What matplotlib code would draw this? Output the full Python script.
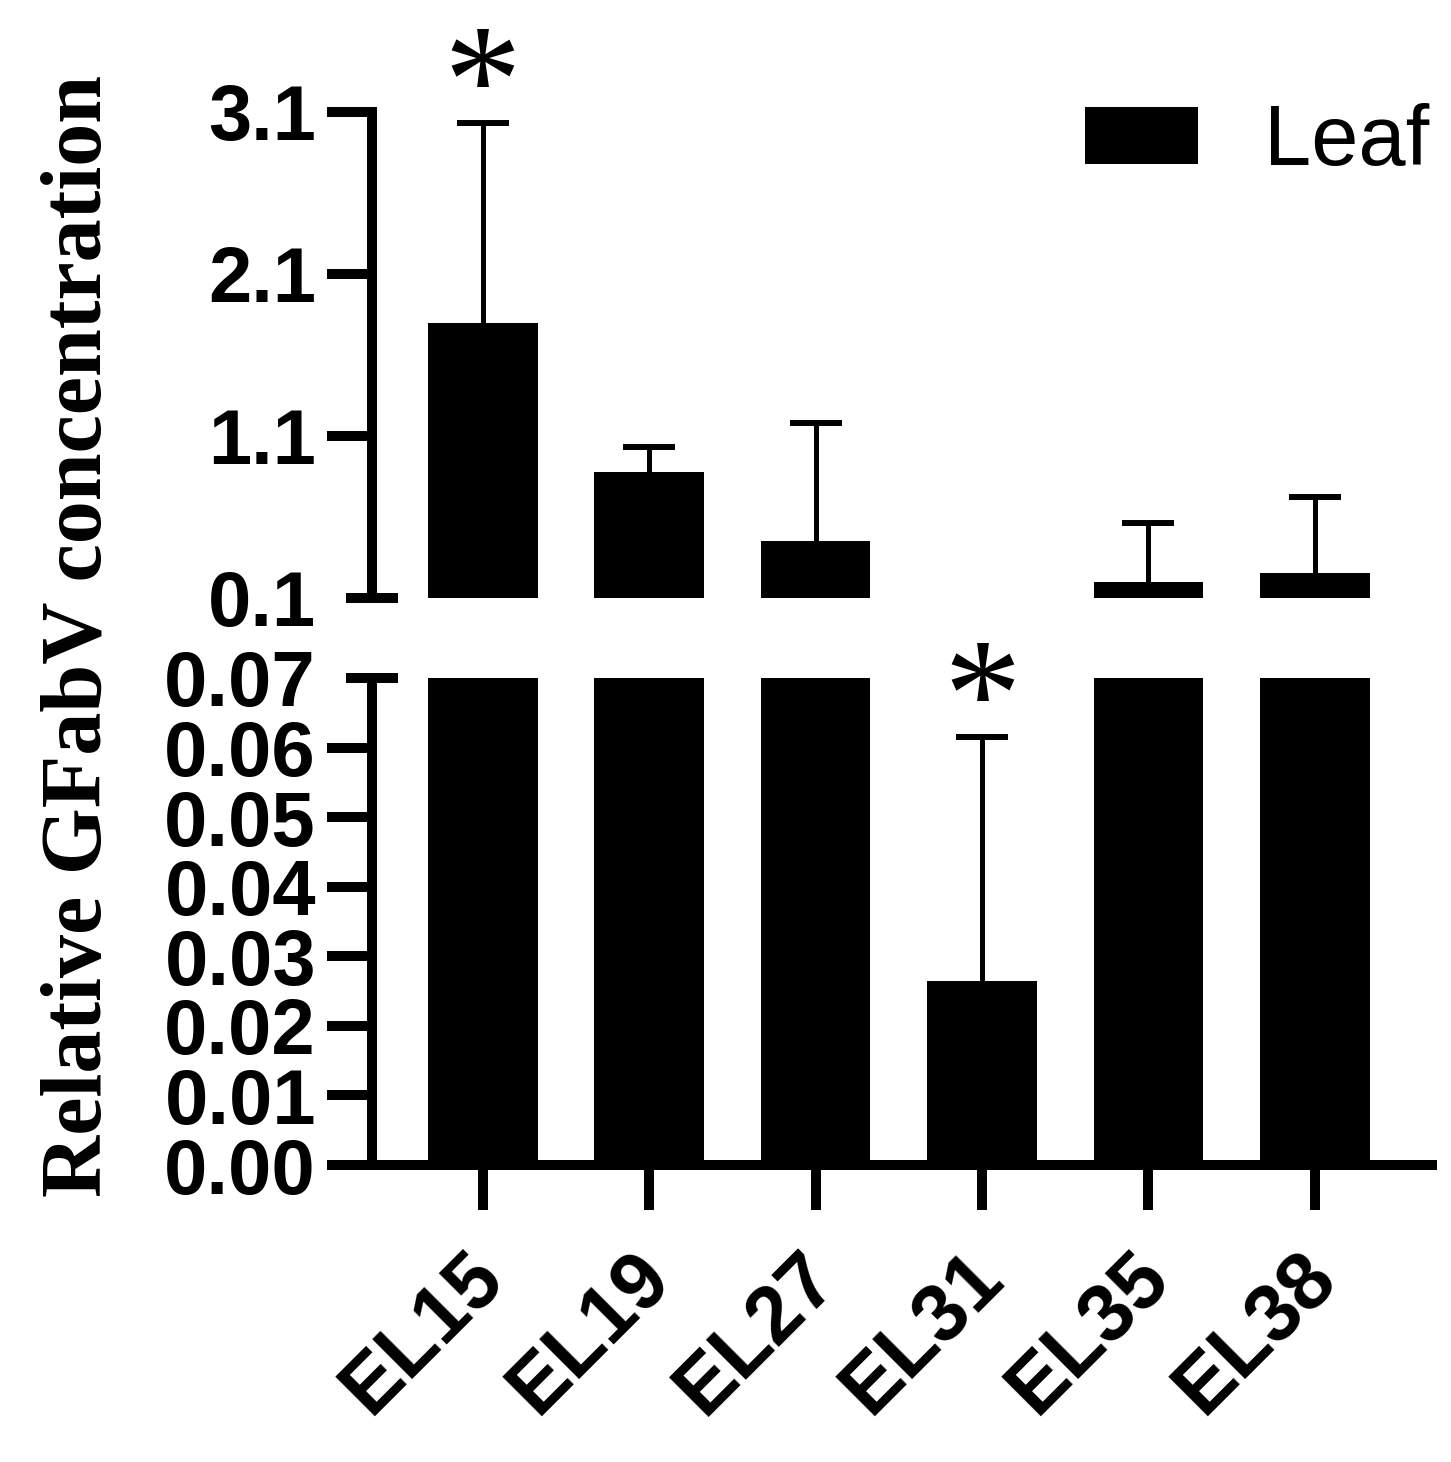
import numpy as np
import matplotlib
matplotlib.use('Agg')
import matplotlib.pyplot as plt
from matplotlib.patches import Patch
from matplotlib.transforms import ScaledTranslation

plt.rcParams['font.family'] = 'Liberation Sans'
plt.rcParams['font.weight'] = 'bold'

stages = ['EL15', 'EL19', 'EL27', 'EL31', 'EL35', 'EL38']
means = [1.80, 0.876, 0.452, 0.0265, 0.200, 0.256]
sd = [1.23, 0.158, 0.730, 0.0350, 0.361, 0.466]
signif = ['*', '', '', '*', '', '']

top_ticks = [1.1, 2.1, 3.1]
bot_ticks = [0.00, 0.01, 0.02, 0.03, 0.04, 0.05, 0.06]

LW = 7.2      # axis line width (pt)
TL = 32.4     # tick length (pt)
CAP = 38.0    # break cap length (pt)
FS = 56       # tick label size
PAD = 8

x = np.arange(len(stages))

fig = plt.figure(figsize=(14.51, 14.62), dpi=100)
ax_top = fig.add_axes([0.2564, 0.5910, 0.7305, 0.3324])
ax_bot = fig.add_axes([0.2564, 0.2031, 0.7305, 0.3332])

for ax in (ax_top, ax_bot):
    ax.bar(x, means, width=0.66, color='black', zorder=2)
    eb = ax.errorbar(x, means, yerr=[np.zeros(len(x)), sd], fmt='none',
                     ecolor='black', elinewidth=3.6, capsize=19, capthick=4.3,
                     zorder=1)
    eb[1][0].set_visible(False)  # no lower caps
    ax.set_xlim(-0.664, 5.703)
    for s in ('top', 'right'):
        ax.spines[s].set_visible(False)
    ax.spines['left'].set_linewidth(LW)
    ax.spines['bottom'].set_linewidth(LW)
    ax.tick_params(axis='y', which='major', direction='out', length=TL,
                   width=LW, labelsize=FS, pad=PAD)
    ax.tick_params(axis='y', which='minor', direction='inout', length=CAP,
                   width=LW, labelsize=FS, pad=PAD + TL - CAP / 2)

# top segment
ax_top.set_ylim(0.1, 3.1)
ax_top.spines['bottom'].set_visible(False)
ax_top.set_xticks([])
ax_top.set_yticks(top_ticks, labels=['%.1f' % t for t in top_ticks])
ax_top.set_yticks([0.1], labels=['0.1'], minor=True)

# bottom segment
ax_bot.set_ylim(0, 0.07)
ax_bot.set_yticks(bot_ticks, labels=['%.2f' % t for t in bot_ticks])
ax_bot.set_yticks([0.07], labels=['0.07'], minor=True)
ax_bot.set_xticks(x)
ax_bot.set_xticklabels(stages, rotation=45, ha='right', va='center',
                       rotation_mode='anchor')
ax_bot.tick_params(axis='x', direction='out', length=TL, width=LW,
                   labelsize=58, pad=40)
shift = ScaledTranslation(0.09, 0, fig.dpi_scale_trans)
for lab in ax_bot.get_xticklabels():
    lab.set_transform(lab.get_transform() + shift)

# significance marks
for i, s in enumerate(signif):
    if not s:
        continue
    ax = ax_top if means[i] > 0.1 else ax_bot
    ax.annotate(s, xy=(x[i], means[i] + sd[i]), xytext=(0, -30),
                textcoords='offset points', ha='center', va='bottom',
                fontsize=112, family='Liberation Serif', fontweight='normal',
                annotation_clip=False)

fig.text(0.055, 0.565, 'Relative GFabV concentration', rotation=90,
         ha='center', va='center', fontsize=62, family='Liberation Serif',
         fontweight='bold')

fig.legend(handles=[Patch(facecolor='black', label='Leaf')],
           loc='center right', bbox_to_anchor=(0.985, 0.902), frameon=False,
           prop={'family': 'Liberation Sans', 'weight': 'normal', 'size': 61},
           handlelength=1.33, handleheight=0.66, handletextpad=0.78,
           borderpad=0, borderaxespad=0)

fig.savefig('out.png', dpi=100)
